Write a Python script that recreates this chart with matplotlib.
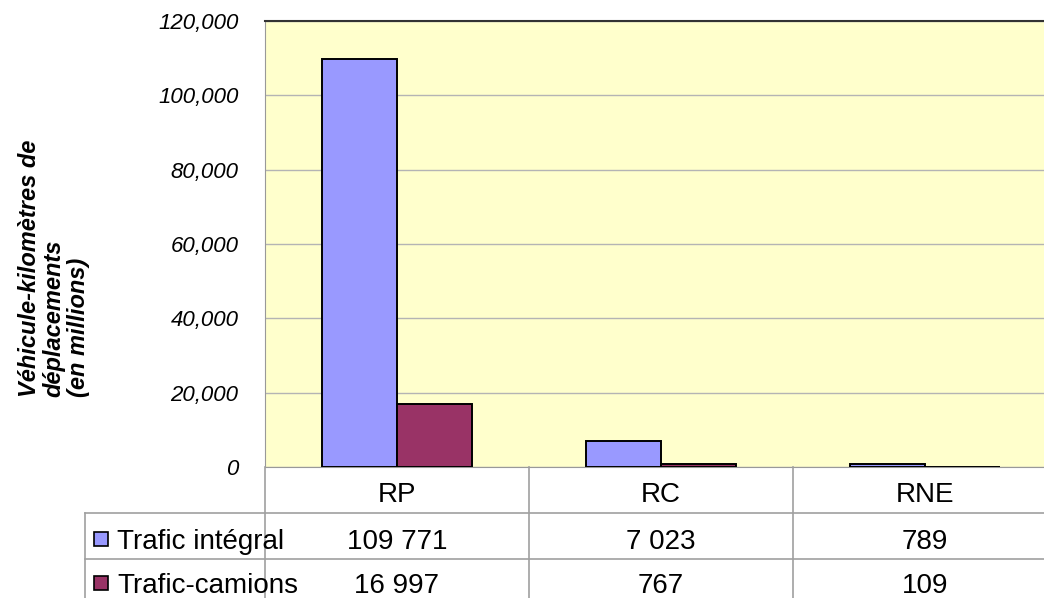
import matplotlib
matplotlib.use("Agg")
import matplotlib.pyplot as plt
from matplotlib.patches import Rectangle
from matplotlib.transforms import blended_transform_factory
from matplotlib.ticker import FuncFormatter

plt.rcParams['font.family'] = ['Liberation Sans', 'DejaVu Sans']

categories = ["RP", "RC", "RNE"]
series_names = ["Trafic intégral", "Trafic-camions"]
trafic_integral = [109771, 7023, 789]
trafic_camions = [16997, 767, 109]
y_ticks = [0, 20000, 40000, 60000, 80000, 100000, 120000]
colors = ["#9999FF", "#993366"]

W, H = 1044, 598
fig = plt.figure(figsize=(W / 100, H / 100), dpi=100)

ax = fig.add_axes([265 / W, 1 - 467 / H, (W - 265) / W, 446 / H])
ax.set_facecolor("#FFFFCC")
bw = 0.285
xs = list(range(len(categories)))
ax.bar([x - bw / 2 for x in xs], trafic_integral, width=bw, color=colors[0],
       edgecolor="black", linewidth=1.4, zorder=3)
ax.bar([x + bw / 2 for x in xs], trafic_camions, width=bw, color=colors[1],
       edgecolor="black", linewidth=1.4, zorder=3)
ax.set_xlim(-0.5, -0.5 + (W - 265) / 264)
ax.set_ylim(0, 120000)
ax.set_yticks(y_ticks)
ax.yaxis.set_major_formatter(FuncFormatter(lambda v, p: "0" if v == 0 else f"{int(v):,}"))
ax.yaxis.grid(True, color="#B4B4B4", linewidth=1.0, zorder=0)
ax.set_axisbelow(True)
ax.set_xticks([])
ax.tick_params(axis="y", length=0, pad=19, labelsize=16)
for lab in ax.get_yticklabels():
    lab.set_fontstyle("italic")
ax.spines["top"].set_color("#333333")
ax.spines["top"].set_linewidth(1.5)
ax.spines["left"].set_color("#999999")
ax.spines["bottom"].set_color("#999999")
ax.spines["right"].set_visible(False)

fig.text(54 / W, 1 - 397 / H, "Véhicule-kilomètres de\ndéplacements\n(en millions)",
         rotation=90, ha="center", va="bottom", ma="left", fontsize=17,
         fontweight="bold", fontstyle="italic", linespacing=1.1)

# data table overlay
ov = fig.add_axes([0, 0, 1, 1], facecolor="none")
ov.set_xlim(0, W)
ov.set_ylim(H, 0)
ov.axis("off")
bt = blended_transform_factory(ax.transData, ov.transData)
lc = "#A0A0A0"
for i in range(len(categories) + 1):
    ov.plot([i - 0.5, i - 0.5], [467, H], color=lc, lw=1.2, transform=bt, clip_on=False)
ov.plot([85, 85], [513, H], color=lc, lw=1.2)
for yy in [513, 559]:
    ov.plot([85, W], [yy, yy], color=lc, lw=1.2)

fs = 20
for i, c in enumerate(categories):
    ov.text(i, 502, c, transform=bt, ha="center", va="baseline", fontsize=fs)
rows = [trafic_integral, trafic_camions]
row_base = [549, 593]
for r, (vals, yb) in enumerate(zip(rows, row_base)):
    for i, v in enumerate(vals):
        ov.text(i, yb, f"{v:,}".replace(",", " "), transform=bt, ha="center",
                va="baseline", fontsize=fs)
    ov.add_patch(Rectangle((94, yb - 17), 14, 14, facecolor=colors[r],
                           edgecolor="black", lw=1.2))
    ov.text(117, yb, series_names[r], ha="left", va="baseline", fontsize=fs)

fig.savefig("out.png", dpi=100)
